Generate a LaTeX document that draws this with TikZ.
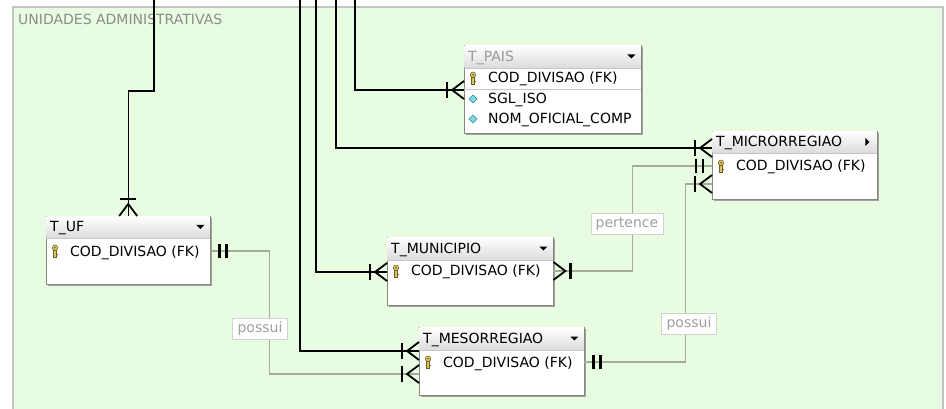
\documentclass[tikz,border=0pt]{standalone}
\usepackage{fontspec}
\setmainfont{DejaVu Sans}
\usetikzlibrary{shadows}
\definecolor{bggreen}{RGB}{232,252,226}
\definecolor{framegray}{RGB}{195,195,195}
\definecolor{relgray}{RGB}{165,170,155}
\definecolor{tblborder}{RGB}{135,135,125}
\definecolor{keygold}{RGB}{220,195,95}
\definecolor{keydark}{RGB}{110,95,40}
\definecolor{attrcyan}{RGB}{125,215,228}
\definecolor{attrdark}{RGB}{45,140,160}

\begin{document}
\begin{tikzpicture}[x=1pt,y=-1pt,
  crowbar/.pic={\draw[line width=2.2pt] (-17,-8) -- (-17,8);
    \draw[line width=1.8pt] (0,-9) -- (-12,0) -- (0,9);},
  onebar/.pic={\draw[line width=2.2pt] (-9,-7) -- (-9,7) (-16,-7) -- (-16,7);},
  pkey/.pic={\filldraw[fill=keygold,draw=keydark,line width=0.5pt] (-1.3,-1) rectangle (1.3,6);
    \filldraw[fill=keygold,draw=keydark,line width=0.5pt] (0,-3.2) circle (2.8);
    \fill[keydark] (0,-3.2) circle (0.9);
    \fill[keydark] (1.3,2.8) rectangle (2.6,4.2);},
  attr/.pic={\filldraw[fill=attrcyan,draw=attrdark,line width=0.5pt] (0,-4) -- (4,0) -- (0,4) -- (-4,0) -- cycle;},
  ddown/.pic={\fill (-4,-2) -- (4,-2) -- (0,2) -- cycle;},
  dright/.pic={\fill (-2,-4) -- (2,0) -- (-2,4) -- cycle;}]
\tikzstyle{tbl}=[draw=tblborder,fill=white,anchor=north west,inner sep=0pt,
  drop shadow={shadow xshift=1.5pt,shadow yshift=-1.5pt,fill=gray!80,opacity=0.9}]
\tikzstyle{hdr}=[top color=white,bottom color=gray!28]
\tikzstyle{sep}=[draw=gray!45,line width=0.8pt]
\tikzstyle{ttl}=[anchor=west,inner sep=0pt,text height=10pt,text depth=0pt,font=\fontsize{14}{16}\selectfont]
\tikzstyle{row}=[ttl]
\tikzstyle{rel}=[line width=1.4pt,black]
\tikzstyle{grel}=[line width=1.1pt,relgray]
\tikzstyle{rlbl}=[fill=white,draw=gray!35,text=gray!75,inner xsep=5pt,inner ysep=4pt,
  text height=10pt,text depth=3pt,font=\fontsize{14}{16}\selectfont]
\useasboundingbox (0,0) rectangle (946,409);

\fill[bggreen] (13,7) rectangle (943,420);
\draw[framegray,line width=1.5pt] (13,420) -- (13,7) -- (943,7) -- (943,420);
\node[ttl,text=gray!90] (grp) at (18,20) {UNIDADES ADMINISTRATIVAS};

\coordinate (top1) at (154,0);
\coordinate (top2) at (300,0);
\coordinate (top3) at (316,0);
\coordinate (top4) at (336,0);
\coordinate (top5) at (355,0);

% tables
\node[tbl,minimum width=164pt,minimum height=68pt] (uf) at (46,216) {};
\shade[hdr] ([shift={(0.5pt,-0.5pt)}]uf.north west) rectangle ([shift={(-0.5pt,-22pt)}]uf.north east);
\draw[sep] ([yshift=-22pt]uf.north west) -- ([yshift=-22pt]uf.north east);
\node[ttl] (uft) at ([shift={(4pt,-11pt)}]uf.north west) {T\_UF};
\pic at ([shift={(-10pt,-11pt)}]uf.north east) {ddown};
\pic at ([shift={(9pt,-35pt)}]uf.north west) {pkey};
\node[row] (ufc) at ([shift={(24pt,-35pt)}]uf.north west) {COD\_DIVISAO (FK)};

\node[tbl,minimum width=177pt,minimum height=88pt] (pais) at (464,45) {};
\shade[hdr] ([shift={(0.5pt,-0.5pt)}]pais.north west) rectangle ([shift={(-0.5pt,-23pt)}]pais.north east);
\draw[sep] ([yshift=-23pt]pais.north west) -- ([yshift=-23pt]pais.north east);
\draw[sep] ([yshift=-44pt]pais.north west) -- ([yshift=-44pt]pais.north east);
\node[ttl,text=gray!80] (paist) at ([shift={(4pt,-11.5pt)}]pais.north west) {T\_PAIS};
\pic at ([shift={(-10pt,-11.5pt)}]pais.north east) {ddown};
\pic at ([shift={(9pt,-33pt)}]pais.north west) {pkey};
\node[row] (paisc) at ([shift={(24pt,-33pt)}]pais.north west) {COD\_DIVISAO (FK)};
\pic at ([shift={(9pt,-54pt)}]pais.north west) {attr};
\node[row] (paiss) at ([shift={(24pt,-54pt)}]pais.north west) {SGL\_ISO};
\pic at ([shift={(9pt,-74pt)}]pais.north west) {attr};
\node[row] (paisn) at ([shift={(24pt,-74pt)}]pais.north west) {NOM\_OFICIAL\_COMP};

\node[tbl,minimum width=165pt,minimum height=68pt] (micro) at (712,131) {};
\shade[hdr] ([shift={(0.5pt,-0.5pt)}]micro.north west) rectangle ([shift={(-0.5pt,-22pt)}]micro.north east);
\draw[sep] ([yshift=-22pt]micro.north west) -- ([yshift=-22pt]micro.north east);
\node[ttl] (microt) at ([shift={(4pt,-11pt)}]micro.north west) {T\_MICRORREGIAO};
\pic at ([shift={(-10pt,-11pt)}]micro.north east) {dright};
\pic at ([shift={(9pt,-35pt)}]micro.north west) {pkey};
\node[row] (microc) at ([shift={(24pt,-35pt)}]micro.north west) {COD\_DIVISAO (FK)};

\node[tbl,minimum width=166pt,minimum height=68pt] (muni) at (387,237) {};
\shade[hdr] ([shift={(0.5pt,-0.5pt)}]muni.north west) rectangle ([shift={(-0.5pt,-23pt)}]muni.north east);
\draw[sep] ([yshift=-23pt]muni.north west) -- ([yshift=-23pt]muni.north east);
\node[ttl] (munit) at ([shift={(4pt,-11.5pt)}]muni.north west) {T\_MUNICIPIO};
\pic at ([shift={(-10pt,-11.5pt)}]muni.north east) {ddown};
\pic at ([shift={(9pt,-34pt)}]muni.north west) {pkey};
\node[row] (munic) at ([shift={(24pt,-34pt)}]muni.north west) {COD\_DIVISAO (FK)};

\node[tbl,minimum width=165pt,minimum height=68pt] (meso) at (419,327) {};
\shade[hdr] ([shift={(0.5pt,-0.5pt)}]meso.north west) rectangle ([shift={(-0.5pt,-23pt)}]meso.north east);
\draw[sep] ([yshift=-23pt]meso.north west) -- ([yshift=-23pt]meso.north east);
\node[ttl] (mesot) at ([shift={(4pt,-11.5pt)}]meso.north west) {T\_MESORREGIAO};
\pic at ([shift={(-10pt,-11.5pt)}]meso.north east) {ddown};
\pic at ([shift={(9pt,-35pt)}]meso.north west) {pkey};
\node[row] (mesoc) at ([shift={(24pt,-35pt)}]meso.north west) {COD\_DIVISAO (FK)};

% relations
\draw[rel] (top1) -- ++(0,91) -| (uf.north);
\draw[rel] (top2) |- ([yshift=-24pt]meso.north west);
\draw[rel] (top3) |- ([yshift=-35pt]muni.north west);
\draw[rel] (top4) |- ([yshift=-17pt]micro.north west);
\draw[rel] (top5) |- ([yshift=-45pt]pais.north west);
\draw[grel] ([yshift=-35pt]uf.north east) -- ++(59,0) |- ([yshift=-47pt]meso.north west);
\draw[grel] ([yshift=-34pt]muni.north east) -- ++(79,0) |- ([yshift=-35pt]micro.north west);
\draw[grel] ([yshift=-35pt]meso.north east) -- ++(101,0) |- ([yshift=-53pt]micro.north west);
\node[rlbl] (pos1) at (260,329) {possui};
\node[rlbl] (pert) at (627,224) {pertence};
\node[rlbl] (pos2) at (689,324) {possui};

\pic[rotate=-90] at (uf.north) {crowbar};
\pic at ([yshift=-45pt]pais.north west) {crowbar};
\pic at ([yshift=-17pt]micro.north west) {crowbar};
\pic at ([yshift=-35pt]micro.north west) {onebar};
\pic at ([yshift=-53pt]micro.north west) {crowbar};
\pic at ([yshift=-35pt]muni.north west) {crowbar};
\pic[rotate=180] at ([yshift=-34pt]muni.north east) {crowbar};
\pic at ([yshift=-24pt]meso.north west) {crowbar};
\pic at ([yshift=-47pt]meso.north west) {crowbar};
\pic[rotate=180] at ([yshift=-35pt]uf.north east) {onebar};
\pic[rotate=180] at ([yshift=-35pt]meso.north east) {onebar};
\end{tikzpicture}
\end{document}
